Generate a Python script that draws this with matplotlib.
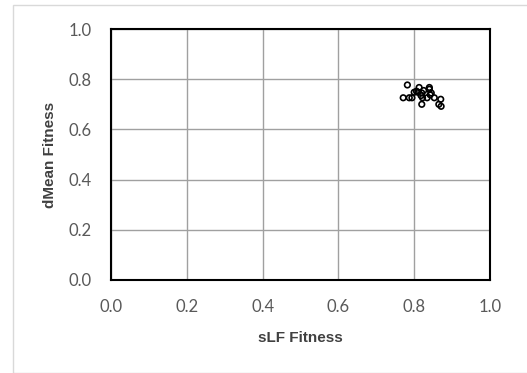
import matplotlib
matplotlib.use("Agg")
import matplotlib.pyplot as plt
from matplotlib.patches import Rectangle

slf = [0.782, 0.771, 0.787, 0.794, 0.800, 0.806, 0.810, 0.813, 0.820, 0.822, 0.820,
       0.825, 0.834, 0.840, 0.840, 0.842, 0.845, 0.853, 0.865, 0.870, 0.871, 0.818]
dmean = [0.777, 0.726, 0.726, 0.726, 0.748, 0.752, 0.748, 0.767, 0.745, 0.726, 0.700,
         0.755, 0.726, 0.767, 0.760, 0.738, 0.745, 0.726, 0.700, 0.720, 0.692, 0.735]
ticks = [0.0, 0.2, 0.4, 0.6, 0.8, 1.0]
tick_labels = ["0.0", "0.2", "0.4", "0.6", "0.8", "1.0"]

plt.rcParams['font.family'] = ['Lato', 'DejaVu Sans']
fig = plt.figure(figsize=(5.27, 3.73), dpi=100)
fig.patches.append(Rectangle((13/527, 0), 1, 1 - 5/373, transform=fig.transFigure,
                             fill=False, edgecolor='#d9d9d9', linewidth=1))
ax = fig.add_axes([111/527, 93/373, 379/527, 251/373])
ax.scatter(slf, dmean, s=16, facecolors='none', edgecolors='black', linewidths=1.2, zorder=3)
ax.set_xlim(0, 1)
ax.set_ylim(0, 1)
ax.set_xticks(ticks)
ax.set_xticklabels(tick_labels)
ax.set_yticks(ticks)
ax.set_yticklabels(tick_labels)
ax.grid(True, color='#a0a0a0', linewidth=1)
ax.set_axisbelow(True)
for s in ax.spines.values():
    s.set_color('black')
    s.set_linewidth(1.5)
ax.tick_params(axis='x', length=0, pad=14, labelsize=12, labelcolor='#595959')
ax.tick_params(axis='y', length=0, pad=14, labelsize=12, labelcolor='#595959')
ax.set_xlabel('sLF Fitness', fontsize=11, fontweight='bold', color='#404040', labelpad=11,
              family=['Liberation Sans', 'DejaVu Sans'])
ax.set_ylabel('dMean Fitness', fontsize=11, fontweight='bold', color='#404040', labelpad=8,
              family=['Liberation Sans', 'DejaVu Sans'])
fig.savefig('out.png', dpi=100)
